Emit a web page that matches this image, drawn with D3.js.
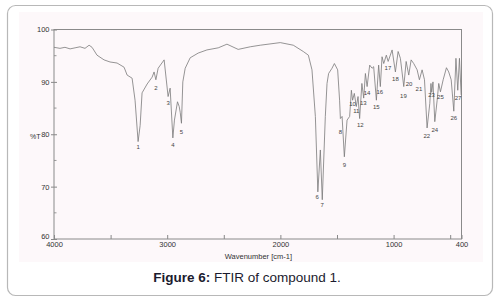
<!DOCTYPE html>
<html>
<head>
<meta charset="utf-8">
<script src="https://cdn.jsdelivr.net/npm/d3@7"></script>
<style>
  body { margin: 0; background: #fff; }
  svg { display: block; font-family: "Liberation Sans", Arial, sans-serif; }
</style>
</head>
<body>
<div id="chart"></div>
<script>
// Spectrum: wavenumber (cm-1) and transmittance (%T)
var wavenumbers = [4000, 3947, 3903, 3858, 3814, 3770, 3726, 3690, 3664, 3620, 3558, 3505, 3443, 3381, 3354, 3310,
    3284, 3257, 3239, 3222, 3177, 3133, 3116, 3100, 3080, 3027, 3003, 2992, 2974, 2950, 2936, 2909, 2894, 2885,
    2874, 2862, 2841, 2797, 2726, 2649, 2549, 2472, 2373, 2266, 2178, 2001, 1886, 1798, 1753, 1721, 1691, 1669,
    1647, 1630, 1603, 1588, 1574, 1544, 1523, 1494, 1477, 1470, 1455, 1435, 1411, 1388, 1373, 1362, 1347, 1329,
    1314, 1300, 1280, 1264, 1249, 1234, 1211, 1190, 1176, 1152, 1132, 1117, 1102, 1087, 1064, 1048, 1013, 984,
    960, 940, 910, 889, 866, 845, 822, 792, 772, 748, 727, 704, 680, 670, 663, 652, 636, 615, 601, 586, 562, 533,
    513, 491, 468, 449, 433, 418, 403];
var transmittance = [96.6, 96.4, 96.6, 96.3, 96.5, 96.7, 96.4, 97.0, 96.6, 95.1, 94.2, 93.8, 93.6, 92.8, 91.3, 90.7,
    86.5, 78.6, 81.7, 87.9, 89.6, 90.9, 91.9, 90.4, 92.6, 94.2, 89.4, 87.2, 88.8, 79.3, 82.7, 86.2, 85.3, 84.2,
    82.1, 90.0, 92.6, 94.6, 95.5, 96.1, 96.5, 97.2, 96.2, 96.7, 97.0, 97.5, 97.0, 95.8, 95.1, 92.3, 83.4, 69.0,
    77.0, 67.5, 83.4, 89.7, 91.6, 92.6, 93.5, 92.3, 86.5, 83.0, 83.4, 75.7, 82.7, 83.4, 88.4, 86.5, 87.8, 85.3,
    87.2, 83.0, 89.7, 86.9, 91.6, 89.1, 93.2, 92.6, 92.9, 86.5, 93.2, 89.1, 94.8, 93.5, 95.1, 93.9, 96.1, 91.9,
    95.8, 94.5, 89.1, 93.9, 91.3, 94.2, 93.5, 92.3, 90.4, 92.3, 90.4, 81.2, 85.9, 89.7, 88.0, 90.0, 82.4, 86.5,
    89.7, 88.1, 90.4, 92.7, 91.9, 90.4, 84.4, 94.5, 88.4, 94.5, 87.5];

// Peak numbers and where their labels sit
var peakNames = ["1", "2", "3", "4", "5", "6", "7", "8", "9", "10", "11", "12", "13", "14", "15", "16", "17", "18",
    "19", "20", "21", "22", "23", "24", "25", "26", "27"];
var peakWn = [3257, 3100, 2992, 2950, 2874, 1674, 1630, 1470, 1435, 1362, 1329, 1294, 1267, 1234, 1152, 1121,
    1050, 984, 913, 863, 776, 707, 665, 636, 586, 468, 431];
var peakT = [77.4, 88.8, 85.8, 77.9, 80.4, 68.0, 66.5, 80.4, 74.1, 85.6, 84.4, 81.6, 85.8, 87.7, 85.2, 87.9,
    92.5, 90.5, 87.3, 89.6, 88.6, 79.5, 87.5, 80.8, 87.1, 83.1, 86.9];

// Axis ticks
var xTicks = [4000, 3500, 3000, 2500, 2000, 1500, 1000, 500, 400];
var xTickLabels = {4000: "4000", 3000: "3000", 2000: "2000", 1000: "1000", 400: "400"};
var yTicks = [100, 90, 80, 70, 60];
var yMinorTicks = [95, 85, 75, 65];

var W = 497, H = 301;
var svg = d3.select("#chart").append("svg")
    .attr("width", W)
    .attr("height", H);

// Card outline around the figure
svg.append("rect")
    .attr("x", 7.5).attr("y", 5.5)
    .attr("width", 485).attr("height", 290)
    .attr("rx", 8).attr("ry", 8)
    .attr("fill", "#fff")
    .attr("stroke", "#b8b8b8")
    .attr("stroke-width", 1.2);

// faint tint of the scanned image
svg.append("rect")
    .attr("x", 19).attr("y", 12)
    .attr("width", 464).attr("height", 250)
    .attr("fill", "#fdf8fa");

var margin = {left: 54, right: 35.5, top: 29.5, bottom: 62};
var width = W - margin.left - margin.right;
var height = H - margin.top - margin.bottom;

var x = d3.scaleLinear().domain([4000, 400]).range([0, width]);
var y = d3.scaleLinear().domain([60, 100]).range([height, 0]);

var chart = svg.append("g")
    .attr("transform", "translate(" + margin.left + "," + margin.top + ")");

// x axis, ticks pointing into the plot
var xAxis = d3.axisBottom(x)
    .tickValues(xTicks)
    .tickSize(-4)
    .tickPadding(3)
    .tickFormat(function(d) { return xTickLabels[d] || ""; });

var gx = chart.append("g")
    .attr("transform", "translate(0," + height + ")")
    .call(xAxis);
gx.select(".domain").remove();
gx.selectAll("line").attr("stroke", "#888");
gx.selectAll("text")
    .attr("y", 2.5)
    .attr("fill", "#333")
    .style("font-size", "7.5px");

// y axis
var yAxis = d3.axisLeft(y)
    .tickValues(yTicks)
    .tickSize(3)
    .tickPadding(3);

var gy = chart.append("g").call(yAxis);
gy.select(".domain").remove();
gy.selectAll("line").attr("x2", 3).attr("x1", -3).attr("stroke", "#888");
gy.selectAll("text")
    .attr("x", -4.5)
    .attr("fill", "#333")
    .style("font-size", "7.5px");
// the bottom label sits a little higher so it clears "4000"
gy.selectAll(".tick")
    .filter(function(d) { return d === 60; })
    .select("text")
    .attr("y", -2.5);

chart.append("g")
    .selectAll("line")
    .data(yMinorTicks)
    .enter()
    .append("line")
    .attr("x1", 0).attr("x2", 2.5)
    .attr("y1", function(d) { return y(d); })
    .attr("y2", function(d) { return y(d); })
    .attr("stroke", "#999");

// plot frame
chart.append("rect")
    .attr("width", width)
    .attr("height", height)
    .attr("fill", "none")
    .attr("stroke", "#8a8a8a")
    .attr("stroke-width", 1);

// the spectrum
var points = wavenumbers.map(function(w, i) { return [w, transmittance[i]]; });
var line = d3.line()
    .x(function(d) { return x(d[0]); })
    .y(function(d) { return y(d[1]); });

chart.append("path")
    .datum(points)
    .attr("d", line)
    .attr("fill", "none")
    .attr("stroke", "#7a7a7a")
    .attr("stroke-width", 0.8)
    .attr("stroke-linejoin", "round");

// peak numbers
chart.append("g")
    .selectAll("text")
    .data(peakNames)
    .enter()
    .append("text")
    .attr("x", function(d, i) { return x(peakWn[i]); })
    .attr("y", function(d, i) { return y(peakT[i]); })
    .attr("text-anchor", "middle")
    .attr("dominant-baseline", "middle")
    .attr("fill", "#444")
    .style("font-size", "6px")
    .text(function(d) { return d; });

// axis titles
chart.append("text")
    .attr("x", x(2000) - 22)
    .attr("y", height + 20)
    .attr("text-anchor", "middle")
    .attr("fill", "#333")
    .style("font-size", "7.5px")
    .text("Wavenumber [cm-1]");

svg.append("text")
    .attr("x", 40.5)
    .attr("y", 139)
    .attr("text-anchor", "end")
    .attr("fill", "#333")
    .style("font-size", "7px")
    .text("%T");

// caption
var caption = svg.append("text")
    .attr("x", 247)
    .attr("y", 281.5)
    .attr("text-anchor", "middle")
    .attr("fill", "#1b1b2e")
    .style("font-size", "13.5px");
caption.append("tspan").attr("font-weight", "bold").text("Figure 6:");
caption.append("tspan").text(" FTIR of compound 1.");
</script>
</body>
</html>
